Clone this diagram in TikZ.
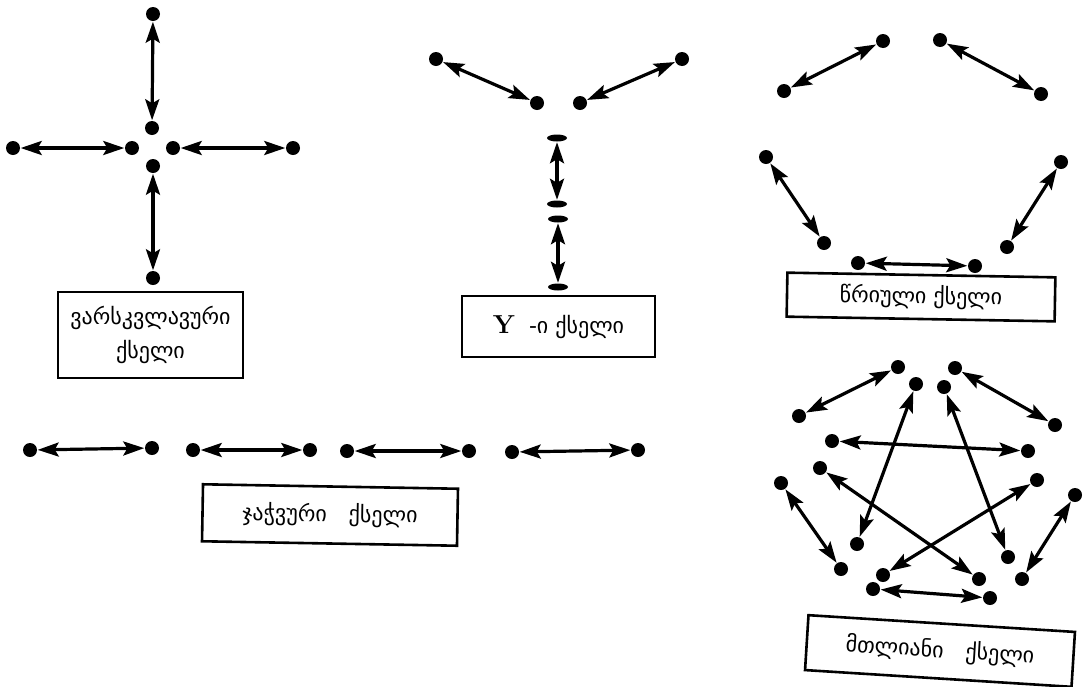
\documentclass[tikz,border=0pt]{standalone}
\usepackage{fontspec}
\newfontfamily\geo{DejaVu Sans}
\usetikzlibrary{arrows.meta,shapes.geometric}
\begin{document}
\begin{tikzpicture}[x=1pt,y=-1pt,
  dot/.style={circle,fill=black,inner sep=0pt,minimum size=14pt},
  bar/.style={ellipse,fill=black,inner sep=0pt,minimum width=20pt,minimum height=7pt},
  link/.style={{Stealth[length=21pt,width=14pt,inset=4pt]}-{Stealth[length=21pt,width=14pt,inset=4pt]},line width=3.2pt,shorten <=0.5pt,shorten >=0.5pt},
  netbox/.style={draw,line width=2.6pt,align=center,font=\geo\fontsize{22}{34}\selectfont,inner sep=0pt}
]
\useasboundingbox (0,0) rectangle (1085,686);
% star network
\node[dot] (s0) at (153,14) {};
\node[dot] (sc1) at (152,128) {};
\node[dot] (sl) at (13,148) {};
\node[dot] (sc2) at (132,148) {};
\node[dot] (sc3) at (173,148) {};
\node[dot] (sr) at (293,148) {};
\node[dot] (sc4) at (153,166) {};
\node[dot] (sb) at (153,278) {};
\draw[link] (s0) -- (sc1);
\draw[link] (sl) -- (sc2);
\draw[link] (sc3) -- (sr);
\draw[link] (sc4) -- (sb);
\node[netbox,minimum width=185pt,minimum height=86pt] (starbox) at (150.5,335) {ვარსკვლავური\\ქსელი};
% Y network
\node[dot] (yl) at (436,59) {};
\node[dot] (yc1) at (537,103) {};
\node[dot] (yc2) at (580,103) {};
\node[dot] (yr) at (682,59) {};
\node[bar] (yb1) at (557,138) {};
\node[bar] (yb2) at (557,204) {};
\node[bar] (yb3) at (558,219) {};
\node[bar] (yb4) at (558,287) {};
\draw[link] (yl) -- (yc1);
\draw[link] (yr) -- (yc2);
\draw[link] (yb1) -- (yb2);
\draw[link] (yb3) -- (yb4);
\node[netbox,minimum width=193pt,minimum height=61pt] (ybox) at (558.5,326.5) {{\normalfont\bfseries\fontsize{26}{28}\selectfont Y}\ \ -ი ქსელი};
% ring network
\node[dot] (r1) at (883,41) {};
\node[dot] (r2) at (940,40) {};
\node[dot] (r3) at (784,91) {};
\node[dot] (r4) at (1041,94) {};
\node[dot] (r5) at (766,157) {};
\node[dot] (r6) at (1061,162) {};
\node[dot] (r7) at (824,243) {};
\node[dot] (r8) at (1007,247) {};
\node[dot] (r9) at (858,263) {};
\node[dot] (r10) at (975,266) {};
\draw[link] (r1) -- (r3);
\draw[link] (r2) -- (r4);
\draw[link] (r5) -- (r7);
\draw[link] (r6) -- (r8);
\draw[link] (r9) -- (r10);
\node[netbox,rotate=-1,minimum width=268pt,minimum height=44pt] (ringbox) at (921,297) {წრიული ქსელი};
% chain network
\node[dot] (c1) at (30,450) {};
\node[dot] (c2) at (152,448) {};
\node[dot] (c3) at (193,450) {};
\node[dot] (c4) at (310,450) {};
\node[dot] (c5) at (347,451) {};
\node[dot] (c6) at (469,451) {};
\node[dot] (c7) at (512,452) {};
\node[dot] (c8) at (638,450) {};
\draw[link] (c1) -- (c2);
\draw[link] (c3) -- (c4);
\draw[link] (c5) -- (c6);
\draw[link] (c7) -- (c8);
\node[netbox,rotate=-1,minimum width=255pt,minimum height=57pt] (chainbox) at (330,515) {ჯაჭვური\quad ქსელი};
% full network
\node[dot] (f1) at (898,367) {};
\node[dot] (f2) at (955,368) {};
\node[dot] (f3) at (916,384) {};
\node[dot] (f4) at (944,387) {};
\node[dot] (f5) at (799,416) {};
\node[dot] (f6) at (1055,425) {};
\node[dot] (f7) at (832,441) {};
\node[dot] (f8) at (1028,451) {};
\node[dot] (f9) at (820,468) {};
\node[dot] (f10) at (1037,480) {};
\node[dot] (f11) at (781,483) {};
\node[dot] (f12) at (1075,495) {};
\node[dot] (f13) at (857,544) {};
\node[dot] (f14) at (1008,557) {};
\node[dot] (f15) at (841,569) {};
\node[dot] (f16) at (1022,579) {};
\node[dot] (f17) at (883,575) {};
\node[dot] (f18) at (979,579) {};
\node[dot] (f19) at (873,589) {};
\node[dot] (f20) at (990,598) {};
\draw[link] (f1) -- (f5);
\draw[link] (f2) -- (f6);
\draw[link] (f7) -- (f8);
\draw[link] (f11) -- (f15);
\draw[link] (f12) -- (f16);
\draw[link] (f3) -- (f13);
\draw[link] (f4) -- (f14);
\draw[link] (f9) -- (f18);
\draw[link] (f10) -- (f17);
\draw[link] (f19) -- (f20);
\node[netbox,rotate=-3.6,minimum width=267pt,minimum height=55pt] (fullbox) at (940,651) {მთლიანი\quad ქსელი};
\end{tikzpicture}
\end{document}
